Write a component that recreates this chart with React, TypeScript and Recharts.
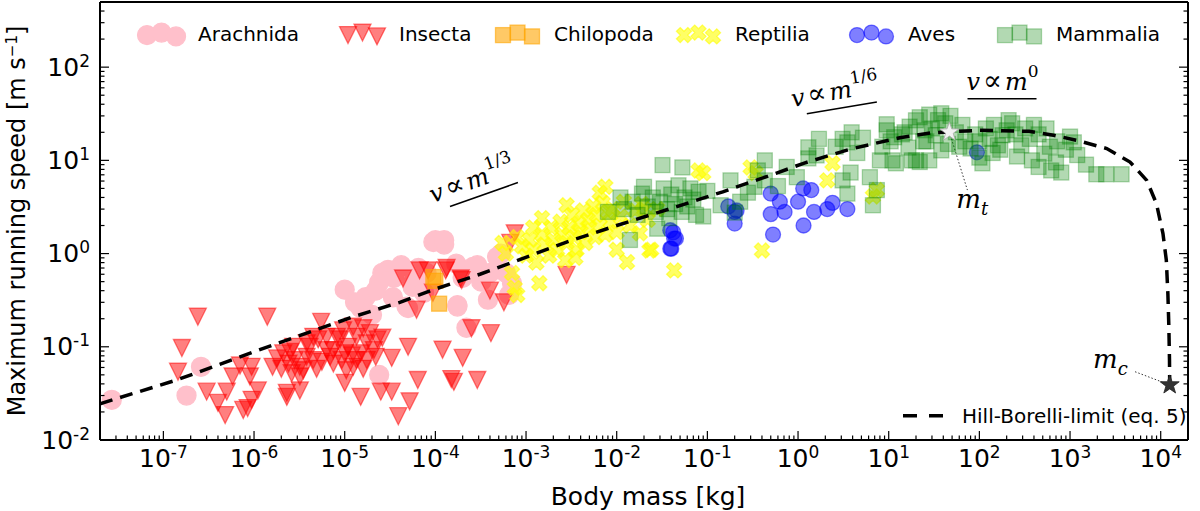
import React from "react";
import { ScatterChart, Scatter, XAxis, YAxis, ReferenceLine, ReferenceDot, Label } from "recharts";

type Pt = { m: number; v: number };
const pts = (rows: number[][]): Pt[] => rows.map(([m, v]) => ({ m, v }));

// body mass [kg], max running speed [m/s]
const ARACHNIDA = pts([
  [2.7e-8, 0.027], [1.8e-7, 0.03], [2.6e-7, 0.061], [2.4e-5, 0.05], [2.2e-4, 0.16],
  [1.0e-5, 0.41], [1.7e-5, 0.34], [1.5e-5, 0.26], [2.0e-5, 0.22], [2.6e-5, 0.62],
  [3.0e-5, 0.67], [2.4e-5, 0.49], [4.2e-5, 0.75], [3.4e-5, 0.34], [5.6e-5, 0.44],
  [5.0e-5, 0.26], [9.5e-5, 1.33], [1.25e-4, 1.25], [1.7e-4, 0.78], [2.6e-4, 0.72],
  [1.75e-4, 0.27], [1.0e-4, 1.39], [1.25e-4, 1.39], [4.3e-5, 0.72], [5.6e-5, 0.48],
  [2.9e-4, 0.75], [4.8e-4, 0.92], [5.3e-4, 1.0], [3.8e-4, 0.32], [1.75e-4, 0.28],
  [6.0e-4, 0.62], [7.0e-4, 0.48], [4.8e-5, 0.27], [6.7e-5, 0.52], [1.3e-5, 0.3],
  [2.2e-5, 0.4], [3.5e-5, 0.55], [6.5e-5, 0.7], [8.0e-5, 0.62], [7.5e-5, 0.38],
  [3.2e-4, 0.5], [4.0e-4, 0.62], [2.0e-4, 0.55], [6.5e-4, 0.36],
]);

const INSECTA = pts([
  [2.4e-7, 0.21], [1.4e-6, 0.21], [1.6e-7, 0.097], [1.45e-7, 0.054], [3.0e-7, 0.033],
  [4.0e-7, 0.025], [4.8e-7, 0.0185], [5.0e-7, 0.033], [5.8e-7, 0.048], [7.0e-7, 0.063],
  [9.4e-7, 0.061], [9.0e-7, 0.048], [1.1e-6, 0.034], [9.4e-7, 0.027], [7.6e-7, 0.021],
  [8.5e-7, 0.022], [5.5e-6, 0.185], [2.3e-6, 0.032], [3.2e-6, 0.034], [2.3e-6, 0.029],
  [1.0e-5, 0.041], [1.5e-5, 0.029], [2.5e-5, 0.033], [3.3e-5, 0.033], [5.2e-5, 0.026],
  [3.9e-5, 0.018], [6.4e-5, 0.044], [3.3e-5, 0.076], [5.0e-5, 0.1], [1.2e-4, 0.093],
  [2.0e-4, 0.076], [2.5e-4, 0.158], [2.9e-4, 0.044], [4.4e-5, 0.54], [6.2e-5, 0.25],
  [6.7e-5, 0.66], [8.3e-5, 0.66], [1.3e-4, 0.66], [1.9e-4, 0.54], [9.4e-5, 0.38],
  [7.5e-4, 1.65], [6.7e-4, 1.3], [1.33e-4, 0.7], [1.95e-4, 0.52], [4.0e-4, 0.4],
  [5.7e-4, 0.3], [2.8e-3, 0.59], [4.1e-4, 0.14], [1.5e-4, 0.045], [1.6e-4, 0.042],
  [1.8e-6, 0.075], [2.0e-6, 0.058], [2.5e-6, 0.088], [2.8e-6, 0.072], [3.2e-6, 0.061],
  [2.6e-6, 0.052], [3.2e-6, 0.048], [3.8e-6, 0.078], [4.1e-6, 0.1], [4.5e-6, 0.128],
  [5.1e-6, 0.12], [6.3e-6, 0.128], [6.9e-6, 0.078], [7.5e-6, 0.092], [8.9e-6, 0.12],
  [9.6e-6, 0.15], [1.09e-5, 0.1], [1.24e-5, 0.164], [1.35e-5, 0.128], [1.5e-5, 0.085],
  [1.6e-5, 0.158], [1.75e-5, 0.109], [1.9e-5, 0.14], [2.1e-5, 0.092], [2.3e-5, 0.12],
  [2.6e-5, 0.125], [1.24e-5, 0.061], [1.04e-5, 0.056], [7.5e-6, 0.066], [4.5e-6, 0.072],
  [4.9e-6, 0.058], [1.6e-6, 0.061], [2.4e-6, 0.066], [8.2e-6, 0.128], [1.35e-5, 0.072],
  [1.75e-5, 0.072], [2.2e-5, 0.078], [3.8e-6, 0.109], [6.3e-6, 0.092], [2.7e-6, 0.1],
  [2.1e-6, 0.085], [3.5e-6, 0.056], [1.0e-5, 0.085], [1.2e-5, 0.081], [1.6e-5, 0.058],
  [9.3e-6, 0.072], [5.6e-6, 0.069],
]);

const CHILOPODA = pts([[1.0e-4, 0.51], [0.95e-4, 0.56], [1.1e-4, 0.29]]);

const REPTILIA = pts([
  [8e-4, 1.5], [7e-4, 0.62], [7.5e-4, 0.43], [8e-4, 0.36], [1.4e-3, 0.48],
  [1.3e-2, 0.81], [1e-2, 1.1], [2.4e-2, 1.1], [4.3e-2, 0.66], [6.5e-3, 4.5],
  [7.5e-3, 5.2], [2.3e-2, 1.08], [0.4, 1.08], [9e-2, 7.3], [0.34, 7.3],
  [2.1, 6.1], [2.4, 9.3], [7.4, 4.8], [6.7, 4.1], [1.8e-2, 1.65],
  [9e-4, 1.2], [1.0e-3, 0.95], [1.1e-3, 1.4], [1.2e-3, 1.1], [1.3e-3, 0.8],
  [1.5e-3, 1.6], [1.6e-3, 1.25], [1.8e-3, 0.95], [1.9e-3, 1.9], [2.0e-3, 1.4],
  [2.2e-3, 1.1], [2.4e-3, 2.2], [2.5e-3, 1.6], [2.7e-3, 0.85], [2.8e-3, 1.3],
  [3.0e-3, 1.9], [3.2e-3, 2.6], [3.4e-3, 1.5], [3.6e-3, 1.1], [3.8e-3, 2.1],
  [4.0e-3, 1.7], [4.3e-3, 2.9], [4.5e-3, 1.3], [4.8e-3, 2.3], [5.0e-3, 1.9],
  [5.5e-3, 3.2], [5.8e-3, 1.5], [6.0e-3, 2.6], [6.5e-3, 2.0], [7.0e-3, 3.5],
  [7.5e-3, 1.6], [8.0e-3, 2.8], [8.5e-3, 2.2], [9.0e-3, 3.0], [1.0e-2, 1.7],
  [1.1e-2, 2.5], [1.2e-2, 3.6], [1.4e-2, 2.0], [1.6e-2, 2.9], [1.9e-2, 3.4],
  [2.2e-2, 2.3], [2.8e-2, 3.0], [1.5e-3, 2.4], [2.8e-3, 3.3], [1.2e-3, 1.9],
  [3.5e-3, 0.9], [6e-4, 1.0], [5.5e-4, 1.3], [2e-2, 3.0], [8e-2, 7.8], [0.3, 8.4],
]);

const AVES = pts([
  [3.9e-2, 1.78], [4.3e-2, 1.45], [3.9e-2, 1.13], [4.2e-2, 1.69], [4.0e-2, 1.13],
  [4.5e-2, 1.45], [0.17, 3.2], [0.2, 2.8], [0.2, 2.1], [0.21, 2.9],
  [0.5, 4.4], [0.63, 3.6], [0.5, 2.65], [0.53, 1.6], [0.71, 2.8],
  [1.0, 3.6], [1.14, 5.0], [1.4, 4.8], [1.5, 2.8], [1.15, 2.0],
  [2.1, 3.0], [2.4, 3.5], [3.5, 3.0], [94, 12.2],
]);

const MAMMALIA = pts([
  [3.2e-2, 8.9], [5.3e-2, 8.4], [8e-3, 2.8], [1.4e-2, 1.4], [2.8e-2, 1.85],
  [1.5e-2, 3.6], [1.9e-2, 4.4], [2.2e-2, 3.2], [2.5e-2, 4.0], [2.7e-2, 2.8],
  [3.0e-2, 3.6], [3.3e-2, 5.0], [3.6e-2, 3.0], [4.0e-2, 4.3], [4.4e-2, 3.4],
  [4.8e-2, 5.4], [5.2e-2, 2.8], [5.6e-2, 4.0], [6.0e-2, 3.2], [6.5e-2, 5.0],
  [7.0e-2, 3.8], [7.5e-2, 2.6], [8.0e-2, 4.6], [1.2e-2, 3.0], [1.7e-2, 2.6],
  [2.0e-2, 5.2], [3.8e-2, 2.4], [1.1e-2, 4.0], [0.1, 4.7], [0.18, 6.1],
  [0.23, 3.6], [9e-2, 2.5], [0.2, 2.75], [0.43, 10], [0.36, 7.8],
  [0.43, 6.1], [0.33, 5.2], [0.97, 6.6], [1.3, 13.8], [1.7, 17],
  [1.6, 11.3], [1.3, 10.5], [3.1, 17], [3.9, 20], [3.5, 15.6],
  [3.1, 6.1], [3.8, 7.4], [3.5, 4.4], [6.2, 6.6], [6.7, 3.3],
  [7.4, 4.8], [11.5, 17.7], [12, 9.3], [18, 10], [22, 9.6],
  [17, 23], [22, 29], [28, 31], [26, 16], [0.14, 3.3],
  [0.28, 4.5], [0.6, 5.3], [0.75, 8.5], [2.6, 14], [4.5, 12],
  [5.2, 17.5], [8.5, 14], [9.5, 21], [14, 19], [20, 26.9],
  [38, 32], [48, 30], [33, 18.6], [24, 16], [16.5, 13.7],
  [10.5, 16], [11, 10], [20, 10], [28, 10], [38, 12.8],
  [70, 16], [80, 13.4], [100, 16], [118, 22], [145, 24],
  [180, 18.6], [160, 14.5], [108, 9.3], [100, 10.7], [230, 25],
  [290, 14.5], [360, 17], [450, 19], [380, 10], [450, 8.5],
  [520, 11.8], [620, 7.8], [720, 16], [800, 7.4], [1100, 15.6],
  [1200, 11.4], [1950, 7.1], [2500, 7.1], [3700, 7.1], [9.5, 24.4],
  [8, 10], [210, 27], [30, 22], [42, 25], [55, 20],
  [60, 14], [45, 15], [35, 27], [25, 21], [15, 20],
  [65, 24], [90, 19], [130, 17], [200, 21], [250, 19],
  [320, 22], [140, 12], [170, 13], [260, 11], [600, 14],
  [900, 13], [700, 9.5], [1500, 9], [1000, 18], [550, 22], [400, 24],
]);

const HILL_BORELLI = pts([
  [2e-8, 0.0245], [1.4e-7, 0.044], [1.63e-6, 0.105], [1.24e-5, 0.21], [4.06e-5, 0.3],
  [9.5e-5, 0.41], [3.1e-4, 0.6], [6.7e-4, 0.79], [2.8e-3, 1.33], [1e-2, 2.0],
  [0.042, 3.1], [0.148, 4.6], [0.58, 7.3], [1.15, 9.3], [3.76, 13.2],
  [13.2, 17.5], [30, 19.8], [100, 21], [355, 20.5], [658, 18.6],
  [1190, 16.4], [2540, 13.4], [4590, 9.6], [7010, 6.1], [8970, 3.44],
  [10590, 1.64], [11530, 0.85], [12000, 0.37], [12300, 0.164], [12500, 0.072], [12570, 0.039],
]);

const M_T = pts([[46.7, 20.1]]);
const M_C = pts([[12570, 0.039]]);

const X_DOMAIN = [2e-8, 2e4];
const Y_DOMAIN = [1e-2, 5e2];
const X_MAJOR = [1e-8, 1e-7, 1e-6, 1e-5, 1e-4, 1e-3, 1e-2, 1e-1, 1, 10, 100, 1000, 1e4];
const Y_MAJOR = [1e-2, 1e-1, 1, 10, 100];

const withMinor = (majors: number[], [lo, hi]: number[]) =>
  majors
    .flatMap((d) => [1, 2, 3, 4, 5, 6, 7, 8, 9].map((k) => k * d))
    .filter((t) => t >= lo * 0.9999 && t <= hi * 1.0001);

const X_TICKS = withMinor(X_MAJOR, X_DOMAIN);
const Y_TICKS = withMinor(Y_MAJOR, Y_DOMAIN);

const FONT = "DejaVu Sans";
const MATH = "DejaVu Serif";

type Kind = "circle" | "tri" | "square" | "x" | "star";
type Style = { kind: Kind; color: string; alpha: number; size: number; edge?: string };

const SERIES: { name: string; data: Pt[]; style: Style }[] = [
  { name: "Arachnida", data: ARACHNIDA, style: { kind: "circle", color: "#ffc0cb", alpha: 1, size: 9.5 } },
  { name: "Insecta", data: INSECTA, style: { kind: "tri", color: "#ff0000", alpha: 0.5, size: 8.5 } },
  { name: "Chilopoda", data: CHILOPODA, style: { kind: "square", color: "#ffa500", alpha: 0.6, size: 7.5 } },
  { name: "Reptilia", data: REPTILIA, style: { kind: "x", color: "#ffff00", alpha: 0.6, size: 8 } },
  { name: "Aves", data: AVES, style: { kind: "circle", color: "#0000ff", alpha: 0.5, size: 7.5 } },
  { name: "Mammalia", data: MAMMALIA, style: { kind: "square", color: "#008000", alpha: 0.3, size: 7.5 } },
];

const LEGEND_X = [147, 348, 503, 684, 857, 1005];
const LEGEND_DY = [2.5, 0, 3.8];

function starPoints(cx: number, cy: number, r: number) {
  const out: string[] = [];
  for (let i = 0; i < 10; i++) {
    const rad = i % 2 === 0 ? r : r * 0.4;
    const a = -Math.PI / 2 + (i * Math.PI) / 5;
    out.push(`${cx + rad * Math.cos(a)},${cy + rad * Math.sin(a)}`);
  }
  return out.join(" ");
}

function xPoints(cx: number, cy: number, s: number) {
  const w = s / 3;
  const plus = [
    [-w, -s], [w, -s], [w, -w], [s, -w], [s, w], [w, w],
    [w, s], [-w, s], [-w, w], [-s, w], [-s, -w], [-w, -w],
  ];
  const c = Math.SQRT1_2;
  return plus.map(([x, y]) => `${cx + (x - y) * c},${cy + (x + y) * c}`).join(" ");
}

function Marker({ cx, cy, style }: { cx: number; cy: number; style: Style }) {
  const { kind, color, alpha, size: s, edge } = style;
  const paint = {
    fill: color,
    fillOpacity: alpha,
    stroke: edge || color,
    strokeOpacity: edge ? 1 : alpha,
    strokeWidth: edge ? 0.8 : 1.3,
  };
  if (cx == null || cy == null) return null;
  if (kind === "circle") return <circle cx={cx} cy={cy} r={s} {...paint} />;
  if (kind === "square") return <rect x={cx - s} y={cy - s} width={2 * s} height={2 * s} {...paint} />;
  if (kind === "tri")
    return <polygon points={`${cx - s},${cy - s} ${cx + s},${cy - s} ${cx},${cy + s}`} {...paint} />;
  if (kind === "x") return <polygon points={xPoints(cx, cy, s)} {...paint} />;
  return <polygon points={starPoints(cx, cy, s)} {...paint} />;
}

const isMajor = (v: number) => Math.abs(Math.log10(v) - Math.round(Math.log10(v))) < 1e-6;
const expOf = (v: number) => Math.round(Math.log10(v));

function BottomTick({ x, y, payload }: any) {
  const major = isMajor(payload.value);
  return (
    <g>
      <line x1={x} y1={y} x2={x} y2={y - (major ? 9 : 4.5)} stroke="#000" strokeWidth={1.2} />
      {major && (
        <text x={x} y={y + 27} textAnchor="middle" fontSize={25} fontFamily={FONT} fill="#000">
          10<tspan fontSize={17} dy={-9}>{expOf(payload.value)}</tspan>
        </text>
      )}
    </g>
  );
}

function TopTick({ x, y, payload }: any) {
  const major = isMajor(payload.value);
  return <line x1={x} y1={y} x2={x} y2={y + (major ? 9 : 4.5)} stroke="#000" strokeWidth={1.2} />;
}

function LeftTick({ x, y, payload }: any) {
  const major = isMajor(payload.value);
  return (
    <g>
      <line x1={x} y1={y} x2={x + (major ? 9 : 4.5)} y2={y} stroke="#000" strokeWidth={1.2} />
      {major && (
        <text x={x - 10} y={y + 8.5} textAnchor="end" fontSize={25} fontFamily={FONT} fill="#000">
          10<tspan fontSize={17} dy={-9}>{expOf(payload.value)}</tspan>
        </text>
      )}
    </g>
  );
}

function RightTick({ x, y, payload }: any) {
  const major = isMajor(payload.value);
  return <line x1={x} y1={y} x2={x - (major ? 9 : 4.5)} y2={y} stroke="#000" strokeWidth={1.2} />;
}

// scaling-law notes, anchored at the left end of their underline
const NOTES = [
  { m: 1.45e-4, v: 3.2, angle: -19.4, exp: "1/3", len: 72, dx: -15 },
  { m: 1.25, v: 31.7, angle: -9.4, exp: "1/6", len: 71, dx: -13 },
  { m: 74, v: 45.9, angle: 0, exp: "0", len: 69, dx: -1 },
];

function Note({ cx, cy, angle, exp, len, dx }: any) {
  return (
    <g transform={`translate(${cx},${cy}) rotate(${angle})`}>
      <line x1={0} y1={0} x2={len} y2={0} stroke="#000" strokeWidth={1.5} />
      <text x={dx} y={-9} fontFamily={MATH} fontSize={24} fill="#000">
        <tspan fontStyle="italic">v</tspan>
        <tspan dx={3} fontSize={28}>∝</tspan>
        <tspan dx={3} fontStyle="italic">m</tspan>
        <tspan fontSize={17} dy={-13}>{exp}</tspan>
      </text>
    </g>
  );
}

function MassLabel({ cx, cy, sub }: any) {
  return (
    <text x={cx} y={cy} fontFamily={MATH} fontSize={26} fontStyle="italic" fill="#000">
      m<tspan fontSize={18} dy={7}>{sub}</tspan>
    </text>
  );
}

function LegendOverlay() {
  return (
    <svg width={1200} height={511} style={{ position: "absolute", left: 0, top: 0, pointerEvents: "none" }}>
      {SERIES.map((s, i) => (
        <g key={s.name}>
          {LEGEND_DY.map((dy, k) => (
            <Marker key={k} cx={LEGEND_X[i] + k * 14.5} cy={32.6 + dy} style={s.style} />
          ))}
          <text x={LEGEND_X[i] + 51} y={41} fontSize={20} fontFamily={FONT} fill="#000">
            {s.name}
          </text>
        </g>
      ))}
      <line x1={903} y1={415.7} x2={943} y2={415.7} stroke="#000" strokeWidth={3.5} strokeDasharray="14 12" />
      <text x={962} y={422.5} fontSize={20} fontFamily={FONT} fill="#000">
        Hill-Borelli-limit (eq. 5)
      </text>
    </svg>
  );
}

const axisLine = { stroke: "#000", strokeWidth: 2 };

export default function App() {
  return (
    <div style={{ position: "absolute", left: 0, top: 0, width: 1200, height: 511, background: "#fff" }}>
      <ScatterChart width={1200} height={511} margin={{ top: 1, right: 11, bottom: 70, left: 0 }}>
        <XAxis
          xAxisId="b" dataKey="m" type="number" scale="log" domain={X_DOMAIN} allowDataOverflow
          ticks={X_TICKS} interval={0} tick={<BottomTick />} tickLine={false} tickSize={0} tickMargin={0}
          height={1} axisLine={axisLine}
        >
          <Label
            content={({ viewBox }: any) => (
              <text x={viewBox.x + viewBox.width / 2 + 4} y={viewBox.y + 65} textAnchor="middle" fontSize={25} fontFamily={FONT} fill="#000">
                Body mass [kg]
              </text>
            )}
          />
        </XAxis>
        <XAxis
          xAxisId="t" orientation="top" type="number" scale="log" domain={X_DOMAIN} allowDataOverflow
          ticks={X_TICKS} interval={0} tick={<TopTick />} tickLine={false} tickSize={0} tickMargin={0}
          height={1} axisLine={axisLine}
        />
        <YAxis
          yAxisId="l" dataKey="v" type="number" scale="log" domain={Y_DOMAIN} allowDataOverflow
          ticks={Y_TICKS} interval={0} tick={<LeftTick />} tickLine={false} tickSize={0} tickMargin={0}
          width={100} axisLine={axisLine}
        >
          <Label
            content={({ viewBox }: any) => (
              <text
                transform={`translate(${viewBox.x + 25},${viewBox.y + viewBox.height / 2}) rotate(-90)`}
                textAnchor="middle" fontSize={24} fontFamily={FONT} fill="#000"
              >
                Maximum running speed [m s<tspan fontSize={15} dy={-8}>−1</tspan>
                <tspan dy={8}>]</tspan>
              </text>
            )}
          />
        </YAxis>
        <YAxis
          yAxisId="r" orientation="right" type="number" scale="log" domain={Y_DOMAIN} allowDataOverflow
          ticks={Y_TICKS} interval={0} tick={<RightTick />} tickLine={false} tickSize={0} tickMargin={0}
          width={1} axisLine={axisLine}
        />

        {SERIES.map((s) => (
          <Scatter
            key={s.name}
            name={s.name}
            data={s.data}
            xAxisId="b"
            yAxisId="l"
            isAnimationActive={false}
            shape={(p: any) => <Marker cx={p.cx} cy={p.cy} style={s.style} />}
          />
        ))}

        <Scatter
          name="Hill-Borelli-limit (eq. 5)"
          data={HILL_BORELLI}
          xAxisId="b"
          yAxisId="l"
          isAnimationActive={false}
          line={{ stroke: "#000", strokeWidth: 3.5, strokeDasharray: "13 8" }}
          lineType="joint"
          shape={() => null}
        />

        <ReferenceLine
          xAxisId="b" yAxisId="l" ifOverflow="visible"
          segment={[{ x: 46.7, y: 20.1 }, { x: 73.8, y: 4.8 }]}
          stroke="#000" strokeWidth={0.8} strokeDasharray="1.5 2"
        />
        <ReferenceLine
          xAxisId="b" yAxisId="l" ifOverflow="visible"
          segment={[{ x: 5210, y: 0.054 }, { x: 12570, y: 0.039 }]}
          stroke="#000" strokeWidth={0.8} strokeDasharray="1.5 2"
        />

        <Scatter
          data={M_T} xAxisId="b" yAxisId="l" isAnimationActive={false}
          shape={(p: any) => (
            <Marker cx={p.cx} cy={p.cy} style={{ kind: "star", color: "#f2f2f2", alpha: 1, size: 10, edge: "#aaaaaa" }} />
          )}
        />
        <Scatter
          data={M_C} xAxisId="b" yAxisId="l" isAnimationActive={false}
          shape={(p: any) => (
            <Marker cx={p.cx} cy={p.cy} style={{ kind: "star", color: "#333333", alpha: 1, size: 10, edge: "#222222" }} />
          )}
        />

        {NOTES.map((n) => (
          <ReferenceDot
            key={n.exp}
            xAxisId="b" yAxisId="l" x={n.m} y={n.v} ifOverflow="visible"
            shape={(p: any) => <Note cx={p.cx} cy={p.cy} {...n} />}
          />
        ))}
        <ReferenceDot
          xAxisId="b" yAxisId="l" x={55.7} y={3.07} ifOverflow="visible"
          shape={(p: any) => <MassLabel cx={p.cx} cy={p.cy} sub="t" />}
        />
        <ReferenceDot
          xAxisId="b" yAxisId="l" x={1795} y={0.059} ifOverflow="visible"
          shape={(p: any) => <MassLabel cx={p.cx} cy={p.cy} sub="c" />}
        />
      </ScatterChart>
      <LegendOverlay />
    </div>
  );
}
